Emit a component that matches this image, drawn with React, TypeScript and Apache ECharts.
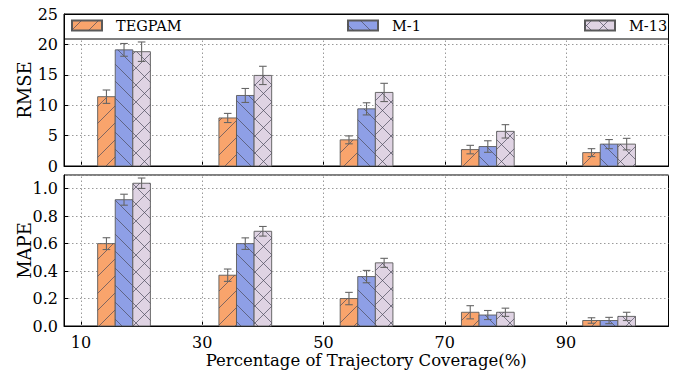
import React, { useEffect, useRef } from "react";
import * as echarts from "echarts";

// ---------- data ----------
const coverage = [10, 30, 50, 70, 90];
const seriesNames = ["TEGPAM", "M-1", "M-13"];

const rmseTEGPAM = [11.4, 7.9, 4.3, 2.7, 2.2];
const rmseTEGPAMErr = [1.1, 0.75, 0.65, 0.7, 0.65];
const rmseM1 = [19.1, 11.6, 9.4, 3.2, 3.6];
const rmseM1Err = [1.05, 1.15, 1.0, 0.95, 0.75];
const rmseM13 = [18.8, 14.9, 12.1, 5.7, 3.6];
const rmseM13Err = [1.6, 1.5, 1.5, 1.1, 0.95];

const mapeTEGPAM = [0.6, 0.37, 0.2, 0.1, 0.04];
const mapeTEGPAMErr = [0.043, 0.045, 0.045, 0.048, 0.02];
const mapeM1 = [0.92, 0.6, 0.36, 0.08, 0.04];
const mapeM1Err = [0.04, 0.042, 0.045, 0.033, 0.023];
const mapeM13 = [1.04, 0.69, 0.46, 0.1, 0.07];
const mapeM13Err = [0.038, 0.035, 0.033, 0.03, 0.03];

const xTickValues = [10, 30, 50, 70, 90];

// ---------- style ----------
const FONT = "DejaVu Serif";
const COLORS = ["#F9A46C", "#8E9FE6", "#DFD3E3"];
const HATCH = ["fwd", "back", "both"];
const OFFSETS = [4.2, 7.1, 10.0];
const BAR_W = 2.9;
const HATCH_S = 17;
const EDGE = "#5a5a5a";
const HATCH_COLOR = "#4b4b5a";
const ERR_COLOR = "#666";

function hatchSegs(x0: number, y0: number, x1: number, y1: number, kind: string, s: number) {
  const segs: number[][] = [];
  if (kind === "fwd" || kind === "both") {
    const cStart = Math.ceil((x0 + y0) / s) * s;
    for (let c = cStart; c <= x1 + y1; c += s) {
      const xa = Math.max(x0, c - y1);
      const xb = Math.min(x1, c - y0);
      if (xb - xa > 0.3) segs.push([xa, c - xa, xb, c - xb]);
    }
  }
  if (kind === "back" || kind === "both") {
    const cStart = Math.ceil((x0 - y1) / s) * s;
    for (let c = cStart; c <= x1 - y0; c += s) {
      const xa = Math.max(x0, c + y0);
      const xb = Math.min(x1, c + y1);
      if (xb - xa > 0.3) segs.push([xa, xa - c, xb, xb - c]);
    }
  }
  return segs;
}

function makeRender(idx: number) {
  return (params: any, api: any) => {
    const x = api.value(0);
    const v = api.value(1);
    const e = api.value(2);
    const pL = api.coord([x - BAR_W / 2, 0]);
    const pR = api.coord([x + BAR_W / 2, v]);
    const x0 = pL[0], x1 = pR[0], yB = pL[1], yT = pR[1];
    const children: any[] = [
      {
        type: "rect",
        shape: { x: x0, y: yT, width: x1 - x0, height: yB - yT },
        style: { fill: COLORS[idx], stroke: EDGE, lineWidth: 0.9 },
      },
    ];
    hatchSegs(x0, yT, x1, yB, HATCH[idx], HATCH_S).forEach((sg) => {
      children.push({
        type: "line",
        shape: { x1: sg[0], y1: sg[1], x2: sg[2], y2: sg[3] },
        style: { stroke: HATCH_COLOR, lineWidth: 0.7 },
      });
    });
    const pHi = api.coord([x, v + e]);
    const pLo = api.coord([x, v - e]);
    const cx = (x0 + x1) / 2;
    children.push(
      { type: "line", shape: { x1: cx, y1: pHi[1], x2: cx, y2: pLo[1] }, style: { stroke: ERR_COLOR, lineWidth: 1.1 } },
      { type: "line", shape: { x1: cx - 3.8, y1: pHi[1], x2: cx + 3.8, y2: pHi[1] }, style: { stroke: ERR_COLOR, lineWidth: 1.1 } },
      { type: "line", shape: { x1: cx - 3.8, y1: pLo[1], x2: cx + 3.8, y2: pLo[1] }, style: { stroke: ERR_COLOR, lineWidth: 1.1 } }
    );
    return { type: "group", children };
  };
}

export default function App() {
  const ref = useRef<HTMLDivElement>(null);

  useEffect(() => {
    if (!ref.current) return;
    const chart = echarts.init(ref.current, null, { renderer: "svg" });

    const rmse = [
      [rmseTEGPAM, rmseTEGPAMErr],
      [rmseM1, rmseM1Err],
      [rmseM13, rmseM13Err],
    ];
    const mape = [
      [mapeTEGPAM, mapeTEGPAMErr],
      [mapeM1, mapeM1Err],
      [mapeM13, mapeM13Err],
    ];

    const gridLine = { color: "#9a9a9a", width: 1, type: [1.5, 2.5] as any };
    // vertical grid lines: top panel stops under the legend frame
    const vTop = [0, 20.9];
    const vBottom = [0, 1.1];

    const series: any[] = [];
    [rmse, mape].forEach((set, g) => {
      set.forEach((pair, i) => {
        const s: any = {
          type: "custom",
          name: seriesNames[i],
          xAxisIndex: g,
          yAxisIndex: g,
          clip: false,
          itemStyle: { color: COLORS[i], borderColor: EDGE, borderWidth: 0.9 },
          renderItem: makeRender(i),
          encode: { x: 0, y: 1 },
          data: coverage.map((c, k) => [c + OFFSETS[i], pair[0][k], pair[1][k]]),
        };
        if (i === 0) {
          const span = g === 0 ? vTop : vBottom;
          s.markLine = {
            silent: true,
            symbol: "none",
            label: { show: false },
            lineStyle: gridLine,
            data: xTickValues.map((v) => [{ coord: [v, span[0]] }, { coord: [v, span[1]] }]),
          };
        }
        series.push(s);
      });
    });

    // legend frame and hatch overlays
    const legendLeft = [71, 347, 584];
    const iconTop = 20.5;
    const graphics: any[] = [
      {
        type: "rect",
        z: 100,
        shape: { x: 64.5, y: 14.5, width: 604, height: 24.5 },
        style: { fill: "#fff", stroke: "#000", lineWidth: 1 },
      },
    ];
    legendLeft.forEach((lx, i) => {
      hatchSegs(lx, iconTop, lx + 30, iconTop + 10, HATCH[i], HATCH_S).forEach((sg) => {
        graphics.push({
          type: "line",
          z: 120,
          shape: { x1: sg[0], y1: sg[1], x2: sg[2], y2: sg[3] },
          style: { stroke: HATCH_COLOR, lineWidth: 0.7 },
        });
      });
    });

    const baseX = {
      type: "value",
      min: 7.2,
      max: 106.9,
      axisLine: { show: true, lineStyle: { color: "#000", width: 1 } },
      axisTick: { show: true, inside: true, length: 4, customValues: xTickValues, lineStyle: { color: "#000" } },
      splitLine: { show: false },
    };

    const option: any = {
      animation: false,
      backgroundColor: "#fff",
      textStyle: { fontFamily: FONT },
      grid: [
        { left: 64, right: 7.5, top: 14, height: 152, show: true, borderColor: "#000", borderWidth: 1, outerBoundsMode: "none" },
        { left: 64, right: 7.5, top: 175, height: 151, show: true, borderColor: "#000", borderWidth: 1, outerBoundsMode: "none" },
      ],
      legend: seriesNames.map((n, i) => ({
        data: [n],
        left: legendLeft[i],
        top: 18,
        padding: 0,
        itemWidth: 30,
        itemHeight: 10,
        icon: "rect",
        selectedMode: false,
        z: 110,
        textStyle: { fontFamily: FONT, fontSize: 14.5, color: "#000", padding: [0, 0, 0, 9] },
      })),
      xAxis: [
        { ...baseX, gridIndex: 0, axisLabel: { show: false } },
        {
          ...baseX,
          gridIndex: 1,
          axisLabel: { show: true, customValues: xTickValues, fontSize: 16, color: "#000", margin: 8, fontFamily: FONT },
          name: "Percentage of Trajectory Coverage(%)",
          nameLocation: "middle",
          nameGap: 26,
          nameMoveOverlap: false,
          nameTextStyle: { fontSize: 16.5, color: "#000", fontFamily: FONT },
        },
      ],
      yAxis: [
        {
          type: "value",
          gridIndex: 0,
          min: 0,
          max: 25,
          interval: 5,
          axisLine: { show: true, lineStyle: { color: "#000" } },
          axisTick: { show: true, inside: true, length: 4, lineStyle: { color: "#000" } },
          axisLabel: { fontSize: 16, color: "#000", margin: 6, fontFamily: FONT },
          splitLine: { show: true, lineStyle: gridLine },
          name: "RMSE",
          nameLocation: "middle",
          nameRotate: 90,
          nameGap: 31,
          nameMoveOverlap: false,
          nameTextStyle: { fontSize: 18, color: "#000", fontFamily: FONT },
        },
        {
          type: "value",
          gridIndex: 1,
          min: 0,
          max: 1.1,
          interval: 0.2,
          axisLine: { show: true, lineStyle: { color: "#000" } },
          axisTick: { show: true, inside: true, length: 4, lineStyle: { color: "#000" } },
          axisLabel: {
            fontSize: 16,
            color: "#000",
            margin: 6,
            fontFamily: FONT,
            showMaxLabel: false,
            formatter: (v: number) => v.toFixed(1),
          },
          splitLine: { show: true, lineStyle: gridLine },
          name: "MAPE",
          nameLocation: "middle",
          nameRotate: 90,
          nameGap: 31,
          nameMoveOverlap: false,
          nameTextStyle: { fontSize: 18, color: "#000", fontFamily: FONT },
        },
      ],
      graphic: graphics,
      series,
    };

    chart.setOption(option);
    return () => chart.dispose();
  }, []);

  return (
    <div
      ref={ref}
      style={{ position: "fixed", left: 0, top: 0, width: 676, height: 374, background: "#fff" }}
    />
  );
}
